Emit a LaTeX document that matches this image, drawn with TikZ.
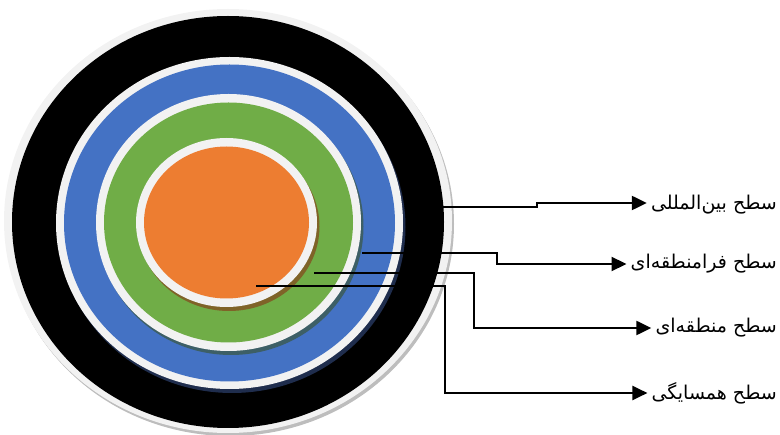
\documentclass[tikz,border=0pt]{standalone}
\usepackage{fontspec}
\newfontfamily\arabicfont[Script=Arabic]{DejaVu Sans}
\TeXXeTstate=1
\usetikzlibrary{arrows.meta}
\definecolor{ringwhite}{HTML}{F2F2F2}
\definecolor{outershadow}{HTML}{BDBDBD}
\definecolor{lvlblue}{HTML}{4472C4}
\definecolor{lvlgreen}{HTML}{70AD47}
\definecolor{lvlorange}{HTML}{ED7D31}
\definecolor{shblue}{HTML}{1F2D4D}
\definecolor{shgreen}{HTML}{3D5F66}
\definecolor{shorange}{HTML}{7F6328}
\tikzset{
  lbl/.style={anchor=east, inner xsep=4pt, inner ysep=0pt, font=\arabicfont\fontsize{19}{22}\selectfont},
  conn/.style={line width=2.2pt, -{Triangle[length=15pt,width=14pt]}},
}
\begin{document}
\begin{tikzpicture}[x=1pt,y=-1pt]
\useasboundingbox (0,0) rectangle (780,435);
% outer disc
\fill[outershadow] (230,224) ellipse [x radius=224pt, y radius=212pt];
\fill[ringwhite] (228,221) ellipse [x radius=224pt, y radius=212pt];
\fill[black] (228,222) ellipse [x radius=216pt, y radius=206pt];
% blue level
\fill[shblue] (232,227) ellipse [x radius=173.5pt, y radius=166pt];
\fill[ringwhite] (229.5,223) ellipse [x radius=173.5pt, y radius=166pt];
\fill[lvlblue] (229.5,223) ellipse [x radius=165.5pt, y radius=158.5pt];
% green level
\fill[shgreen] (231,226.5) ellipse [x radius=132.5pt, y radius=128.5pt];
\fill[ringwhite] (228.5,222.5) ellipse [x radius=132.5pt, y radius=128.5pt];
\fill[lvlgreen] (228.5,222.5) ellipse [x radius=124.5pt, y radius=120pt];
% orange level
\fill[shorange] (229,226.5) ellipse [x radius=90.5pt, y radius=84.5pt];
\fill[ringwhite] (226.5,222.5) ellipse [x radius=90.5pt, y radius=84.5pt];
\fill[lvlorange] (226.5,222.5) ellipse [x radius=82.5pt, y radius=76pt];
% labels
\node[lbl] (l1) at (781,205) {\beginR سطح بین‌المللی\endR};
\node[lbl] (l2) at (781,264) {\beginR سطح فرامنطقه‌ای\endR};
\node[lbl] (l3) at (781,328) {\beginR سطح منطقه‌ای\endR};
\node[lbl] (l4) at (781,393) {\beginR سطح همسایگی\endR};
% start points
\coordinate (s1) at (443,207);
\coordinate (s2) at (362,253);
\coordinate (s3) at (314,273);
\coordinate (s4) at (256,286);
% connectors
\draw[conn] (s1) -- (537,207) -- (537,203) -- (l1.west |- 0,203);
\draw[conn] (s2) -- (497,253) |- (l2.west);
\draw[conn] (s3) -- (474,273) |- (l3.west);
\draw[conn] (s4) -- (445,286) |- (l4.west);
\end{tikzpicture}
\end{document}
